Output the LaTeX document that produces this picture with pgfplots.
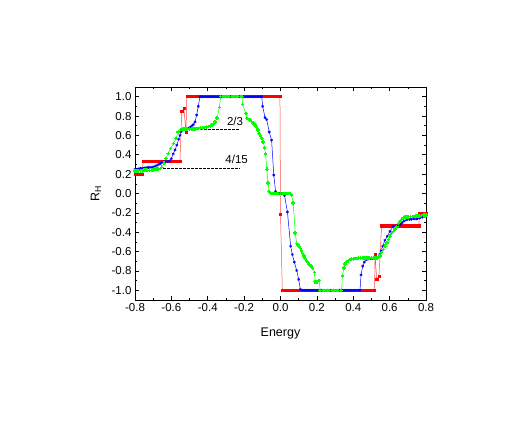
\documentclass[border=0pt]{standalone}
\usepackage{pgfplots}
\pgfplotsset{compat=1.18}
\usepackage{fontspec}
\setmainfont{Liberation Sans}

\begin{document}
\begin{tikzpicture}
\begin{axis}[
  scale only axis,
  width=291pt, height=213pt,
  xmin=-0.8, xmax=0.8,
  ymin=-1.1, ymax=1.1,
  xtick={-0.8,-0.6,...,0.81},
  ytick={-1.0,-0.8,...,1.01},
  minor x tick num=1,
  minor y tick num=1,
  tick align=inside,
  xtick pos=both, ytick pos=both,
  major tick length=4pt,
  minor tick length=2pt,
  axis line style={line width=0.8pt},
  every tick/.style={black, line width=0.6pt},
  tick label style={font=\fontsize{11.5}{13}\selectfont},
  /pgf/number format/assume math mode=true,
  /pgf/number format/.cd, fixed, fixed zerofill, precision=1,
  /pgfplots/.cd,
  xlabel={Energy},
  ylabel={R\textsubscript{H}},
  label style={font=\fontsize{12.5}{14}\selectfont},
  xlabel style={at={(axis description cs:0.5,-0.155)}, anchor=center},
  ylabel style={at={(axis description cs:-0.134,0.5)}, anchor=center},
  clip=false,
]
% dashed reference lines
\addplot[black, line width=0.8pt, dash pattern=on 2.5pt off 1.5pt] coordinates {(-0.55,0.667) (-0.223,0.667)};
\addplot[black, line width=0.8pt, dash pattern=on 2.5pt off 1.5pt] coordinates {(-0.8,0.26) (-0.223,0.26)};
\node[font=\fontsize{11.5}{13}\selectfont] at (axis cs:-0.25,0.746) {2/3};
\node[font=\fontsize{11.5}{13}\selectfont] at (axis cs:-0.241,0.353) {4/15};

% red
\addplot[red!70, line width=0.5pt, mark=square*, mark size=1.05pt, mark options={fill=red, draw=red}] coordinates {
(-0.80,0.2)(-0.79,0.2)(-0.78,0.2)(-0.77,0.2)(-0.76,0.2)
(-0.755,0.333)(-0.75,0.333)(-0.74,0.333)(-0.73,0.333)(-0.72,0.333)(-0.71,0.333)(-0.70,0.333)(-0.69,0.333)(-0.68,0.333)(-0.67,0.333)(-0.66,0.333)(-0.65,0.333)(-0.64,0.333)(-0.63,0.333)(-0.62,0.333)(-0.61,0.333)(-0.60,0.333)(-0.59,0.333)(-0.58,0.333)(-0.57,0.333)(-0.56,0.333)(-0.553,0.333)
(-0.543,0.85)(-0.531,0.88)(-0.52,0.63)(-0.515,1.0)
(-0.51,1)(-0.50,1)(-0.49,1)(-0.48,1)(-0.47,1)(-0.46,1)(-0.45,1)(-0.44,1)(-0.43,1)(-0.42,1)(-0.41,1)(-0.40,1)(-0.39,1)(-0.38,1)(-0.37,1)(-0.36,1)(-0.35,1)(-0.34,1)(-0.33,1)(-0.32,1)(-0.31,1)(-0.30,1)(-0.29,1)(-0.28,1)(-0.27,1)(-0.26,1)(-0.25,1)(-0.24,1)(-0.23,1)(-0.22,1)(-0.21,1)(-0.20,1)(-0.19,1)(-0.18,1)(-0.17,1)(-0.16,1)(-0.15,1)(-0.14,1)(-0.13,1)(-0.12,1)(-0.11,1)(-0.10,1)(-0.09,1)(-0.08,1)(-0.07,1)(-0.06,1)(-0.05,1)(-0.04,1)(-0.03,1)(-0.02,1)(-0.01,1)(-0.003,1)
(0.0,-0.21)
(0.01,-1)(0.02,-1)(0.03,-1)(0.04,-1)(0.05,-1)(0.06,-1)(0.07,-1)(0.08,-1)(0.09,-1)(0.10,-1)(0.11,-1)(0.12,-1)(0.13,-1)(0.14,-1)(0.15,-1)(0.16,-1)(0.17,-1)(0.18,-1)(0.19,-1)(0.20,-1)(0.21,-1)(0.22,-1)(0.23,-1)(0.24,-1)(0.25,-1)(0.26,-1)(0.27,-1)(0.28,-1)(0.29,-1)(0.30,-1)(0.31,-1)(0.32,-1)(0.33,-1)(0.34,-1)(0.35,-1)(0.36,-1)(0.37,-1)(0.38,-1)(0.39,-1)(0.40,-1)(0.41,-1)(0.42,-1)(0.43,-1)(0.44,-1)(0.45,-1)(0.46,-1)(0.47,-1)(0.48,-1)(0.49,-1)(0.50,-1)(0.51,-1)(0.517,-1)
(0.52,-0.63)(0.529,-0.887)(0.541,-0.853)(0.556,-0.333)
(0.56,-0.333)(0.57,-0.333)(0.58,-0.333)(0.59,-0.333)(0.60,-0.333)(0.61,-0.333)(0.62,-0.333)(0.63,-0.333)(0.64,-0.333)(0.65,-0.333)(0.66,-0.333)(0.67,-0.333)(0.68,-0.333)(0.69,-0.333)(0.70,-0.333)(0.71,-0.333)(0.72,-0.333)(0.73,-0.333)(0.74,-0.333)(0.75,-0.333)(0.76,-0.333)
(0.765,-0.2)(0.77,-0.2)(0.78,-0.2)(0.79,-0.2)(0.80,-0.2)
};

% blue
\addplot[blue, line width=0.5pt, mark=asterisk, mark size=1.4pt, mark options={line width=0.6pt}] coordinates {
(-0.80,0.25)(-0.79,0.25)(-0.78,0.255)(-0.77,0.26)(-0.76,0.26)(-0.75,0.265)(-0.74,0.265)(-0.73,0.27)(-0.72,0.27)(-0.71,0.27)(-0.70,0.275)(-0.69,0.28)(-0.68,0.29)(-0.67,0.30)(-0.66,0.31)(-0.65,0.32)(-0.64,0.33)(-0.63,0.33)(-0.62,0.33)(-0.61,0.335)(-0.60,0.36)(-0.59,0.41)(-0.58,0.45)(-0.57,0.50)(-0.56,0.56)(-0.553,0.60)(-0.545,0.64)(-0.535,0.66)(-0.525,0.665)(-0.515,0.67)(-0.505,0.675)(-0.495,0.685)(-0.487,0.70)(-0.479,0.712)(-0.470,0.74)(-0.461,0.81)(-0.452,0.90)(-0.443,1.0)
(-0.44,1)(-0.43,1)(-0.42,1)(-0.41,1)(-0.40,1)(-0.39,1)(-0.38,1)(-0.37,1)(-0.36,1)(-0.35,1)(-0.34,1)(-0.33,1)(-0.32,1)(-0.31,1)(-0.30,1)(-0.29,1)(-0.28,1)(-0.27,1)(-0.26,1)(-0.25,1)(-0.24,1)(-0.23,1)(-0.22,1)(-0.21,1)(-0.20,1)(-0.19,1)(-0.18,1)(-0.17,1)(-0.16,1)(-0.15,1)(-0.14,1)(-0.13,1)(-0.12,1)(-0.11,1)(-0.103,1)
(-0.098,0.90)(-0.085,0.784)(-0.076,0.764)(-0.062,0.636)(-0.049,0.551)(-0.037,0.19)(-0.027,0.02)(-0.017,0.0)(-0.007,0.0)(0.003,0.0)(0.013,0.0)(0.022,-0.02)(0.038,-0.19)(0.056,-0.545)(0.065,-0.63)(0.076,-0.709)(0.089,-0.795)(0.100,-0.887)(0.109,-0.99)
(0.12,-1)(0.13,-1)(0.14,-1)(0.15,-1)(0.16,-1)(0.17,-1)(0.18,-1)(0.19,-1)(0.20,-1)(0.21,-1)(0.22,-1)(0.23,-1)(0.24,-1)(0.25,-1)(0.26,-1)(0.27,-1)(0.28,-1)(0.29,-1)(0.30,-1)(0.31,-1)(0.32,-1)(0.33,-1)(0.34,-1)(0.35,-1)(0.36,-1)(0.37,-1)(0.38,-1)(0.39,-1)(0.40,-1)(0.41,-1)(0.42,-1)(0.43,-1)(0.437,-1)
(0.443,-0.84)(0.452,-0.75)(0.461,-0.709)(0.474,-0.682)(0.485,-0.675)(0.495,-0.67)(0.505,-0.67)(0.515,-0.67)(0.525,-0.665)(0.535,-0.66)(0.545,-0.63)(0.553,-0.59)(0.562,-0.545)(0.574,-0.483)(0.587,-0.442)(0.602,-0.391)(0.620,-0.339)(0.63,-0.333)(0.64,-0.333)(0.65,-0.33)(0.66,-0.32)(0.67,-0.30)(0.68,-0.285)(0.694,-0.271)(0.71,-0.268)(0.72,-0.265)(0.735,-0.264)(0.749,-0.263)(0.765,-0.255)(0.78,-0.245)(0.794,-0.237)
};

% green
\addplot[green, line width=0.5pt, mark=+, mark size=1.8pt, mark options={line width=1.5pt}] coordinates {
(-0.80,0.23)(-0.79,0.23)(-0.78,0.235)(-0.77,0.235)(-0.76,0.235)(-0.75,0.24)(-0.74,0.24)(-0.73,0.24)(-0.72,0.24)(-0.71,0.24)(-0.70,0.245)(-0.69,0.25)(-0.68,0.25)(-0.67,0.255)(-0.66,0.26)(-0.653,0.271)(-0.641,0.312)(-0.630,0.363)(-0.617,0.414)(-0.604,0.466)(-0.589,0.517)(-0.575,0.569)(-0.562,0.636)(-0.547,0.66)
(-0.54,0.665)(-0.53,0.665)(-0.52,0.665)(-0.51,0.665)(-0.50,0.666)(-0.49,0.667)(-0.48,0.668)(-0.47,0.669)(-0.46,0.67)(-0.45,0.672)(-0.44,0.674)(-0.43,0.677)(-0.42,0.68)
(-0.406,0.685)(-0.395,0.69)(-0.385,0.70)(-0.378,0.71)(-0.369,0.72)(-0.360,0.74)(-0.348,0.78)(-0.336,0.89)(-0.329,1.0)
(-0.32,1)(-0.31,1)(-0.30,1)(-0.29,1)(-0.28,1)(-0.27,1)(-0.26,1)(-0.25,1)(-0.24,1)(-0.23,1)(-0.22,1)(-0.212,1)
(-0.208,0.92)(-0.191,0.825)(-0.183,0.774)(-0.175,0.765)(-0.168,0.757)(-0.159,0.745)(-0.150,0.729)(-0.140,0.71)(-0.131,0.688)(-0.124,0.655)(-0.117,0.620)(-0.110,0.595)(-0.103,0.569)(-0.095,0.534)(-0.088,0.47)(-0.082,0.407)(-0.075,0.25)(-0.069,0.106)(-0.062,0.02)(-0.055,0.005)
(-0.05,0)(-0.04,0)(-0.03,0)(-0.02,0)(-0.01,0)(0.0,0)(0.01,0)(0.02,0)(0.03,0)(0.04,0)(0.05,0)(0.055,0)
(0.061,-0.014)(0.070,-0.099)(0.081,-0.407)(0.089,-0.517)(0.096,-0.53)(0.103,-0.545)(0.110,-0.57)(0.116,-0.596)(0.122,-0.62)(0.129,-0.648)(0.136,-0.67)(0.144,-0.699)(0.151,-0.715)(0.158,-0.733)(0.167,-0.75)(0.177,-0.767)(0.186,-0.818)(0.191,-0.911)(0.202,-0.911)(0.213,-0.90)(0.218,-1.0)
(0.22,-1)(0.23,-1)(0.24,-1)(0.25,-1)(0.26,-1)(0.27,-1)(0.28,-1)(0.29,-1)(0.30,-1)(0.31,-1)(0.32,-1)(0.33,-1)(0.336,-1)
(0.340,-0.853)(0.349,-0.767)(0.356,-0.73)(0.364,-0.709)(0.373,-0.69)(0.382,-0.682)(0.39,-0.678)(0.40,-0.675)(0.41,-0.672)(0.42,-0.67)(0.43,-0.669)(0.44,-0.668)(0.45,-0.667)(0.46,-0.666)(0.47,-0.665)(0.48,-0.664)(0.49,-0.664)(0.50,-0.664)(0.51,-0.664)(0.52,-0.664)(0.53,-0.664)
(0.54,-0.66)(0.547,-0.647)(0.556,-0.61)(0.565,-0.579)(0.574,-0.545)(0.584,-0.510)(0.593,-0.475)(0.602,-0.442)(0.611,-0.415)(0.620,-0.391)(0.629,-0.365)(0.639,-0.339)(0.648,-0.31)(0.657,-0.288)(0.666,-0.27)(0.675,-0.253)(0.685,-0.245)(0.695,-0.24)(0.705,-0.24)(0.715,-0.238)(0.725,-0.237)(0.735,-0.236)(0.745,-0.235)(0.755,-0.233)(0.765,-0.23)(0.775,-0.227)(0.785,-0.224)(0.795,-0.221)(0.80,-0.22)
};
\end{axis}
\path ([shift={(-135pt,-127pt)}]current axis.south west) rectangle ([shift={(99pt,87pt)}]current axis.north east);
\end{tikzpicture}
\end{document}
